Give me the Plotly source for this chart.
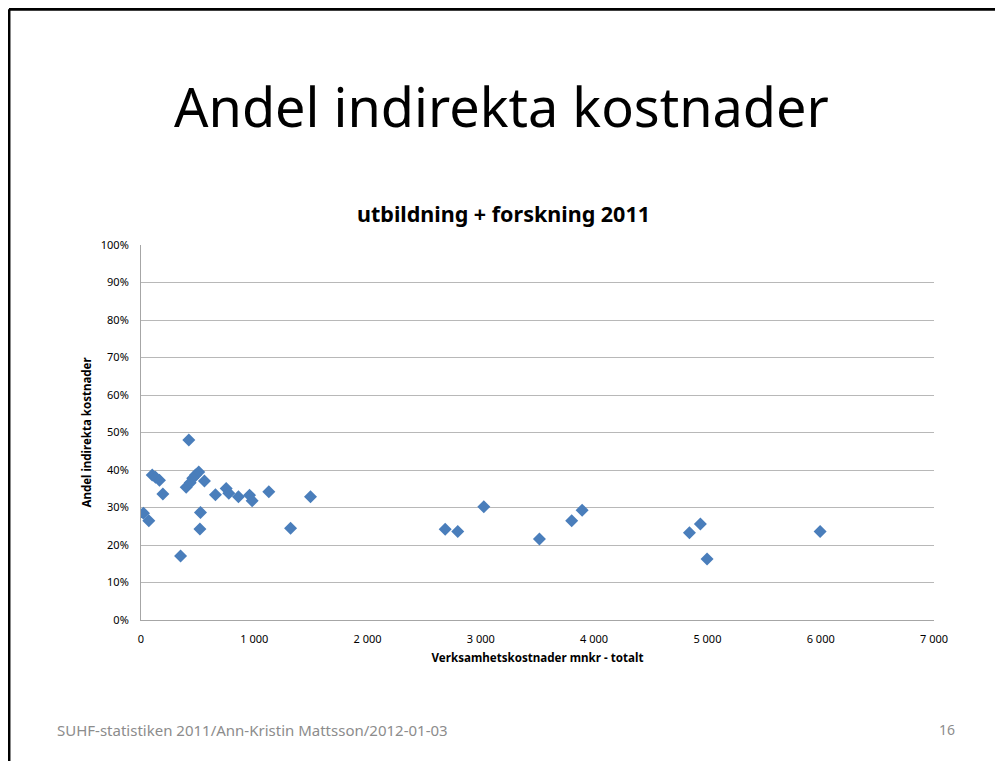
import plotly.graph_objects as go

# Verksamhetskostnader (mnkr) and andel indirekta kostnader per lärosäte
kostnader = [22, 69, 99, 128, 163, 193, 349, 399, 422, 434, 457, 481, 510, 525, 520,
             560, 657, 752, 775, 860, 958, 981, 1128, 1320, 1496, 2685, 2796, 3026,
             3517, 3802, 3894, 4841, 4938, 4997, 5995]
andel = [0.285, 0.265, 0.387, 0.381, 0.373, 0.336, 0.171, 0.354, 0.480, 0.366, 0.378,
         0.387, 0.395, 0.287, 0.243, 0.371, 0.334, 0.351, 0.338, 0.329, 0.333, 0.318,
         0.342, 0.245, 0.329, 0.242, 0.236, 0.302, 0.216, 0.265, 0.293, 0.233, 0.256,
         0.163, 0.236]

x_ticks = [0, 1000, 2000, 3000, 4000, 5000, 6000, 7000]
y_ticks = [0, 0.1, 0.2, 0.3, 0.4, 0.5, 0.6, 0.7, 0.8, 0.9, 1.0]

FONT = "Liberation Sans Narrow, Noto Sans, Arial"

fig = go.Figure()
fig.add_trace(go.Scatter(
    x=kostnader, y=andel,
    mode='markers',
    marker=dict(symbol='diamond', size=10, color='#4a7ebb'),
    showlegend=False
))

# page has an 8px body margin, so margins are shifted to compensate
fig.update_layout(
    width=1003, height=761,
    margin=dict(l=133, r=77, t=237, b=149),
    paper_bgcolor='white', plot_bgcolor='white',
    separators=', ',
    font=dict(family=FONT, color='#000000'),
    xaxis=dict(range=[0, 7000], tickvals=x_ticks, tickformat=',d',
               showgrid=False, zeroline=False, showline=True,
               linecolor='#a6a6a6', linewidth=1,
               ticks='outside', ticklen=9, tickcolor='rgba(0,0,0,0)',
               tickfont=dict(size=11),
               title=dict(text='<b>Verksamhetskostnader mnkr - totalt</b>',
                          font=dict(size=11.6), standoff=8)),
    yaxis=dict(range=[0, 1.0], tickvals=y_ticks, tickformat='.0%',
               showgrid=True, gridcolor='#b8b8b8', gridwidth=1,
               zeroline=False, showline=True, linecolor='#a6a6a6', linewidth=1,
               ticks='outside', ticklen=9, tickcolor='rgba(0,0,0,0)',
               tickfont=dict(size=11),
               title=dict(text='<b>Andel indirekta kostnader</b>',
                          font=dict(size=11.5), standoff=6)),
)

# slide title, chart title and footer
fig.add_annotation(text='Andel indirekta kostnader', xref='paper', yref='paper',
                   x=0.455, y=1.37, xanchor='center', yanchor='middle', showarrow=False,
                   font=dict(family=FONT, size=54, color='#000000'))
fig.add_annotation(text='<b>utbildning + forskning 2011</b>', xref='paper', yref='paper',
                   x=0.457, y=1.083, xanchor='center', yanchor='middle', showarrow=False,
                   font=dict(family=FONT, size=21.5, color='#000000'))
fig.add_annotation(text='SUHF-statistiken 2011/Ann-Kristin Mattsson/2012-01-03',
                   xref='paper', yref='paper', x=-0.109, y=-0.293,
                   xanchor='left', yanchor='middle', showarrow=False,
                   font=dict(family=FONT, size=15, color='#8c8c8c'))
fig.add_annotation(text='16', xref='paper', yref='paper', x=1.016, y=-0.293,
                   xanchor='center', yanchor='middle', showarrow=False,
                   font=dict(family=FONT, size=14, color='#8c8c8c'))

# slide border (top and left)
fig.add_shape(type='line', xref='paper', yref='paper', x0=-0.1665, x1=1.1,
              y0=1.629, y1=1.629, line=dict(color='black', width=3))
fig.add_shape(type='line', xref='paper', yref='paper', x0=-0.1665, x1=-0.1665,
              y0=1.629, y1=-0.4, line=dict(color='black', width=3))

fig.write_html("out.html")
